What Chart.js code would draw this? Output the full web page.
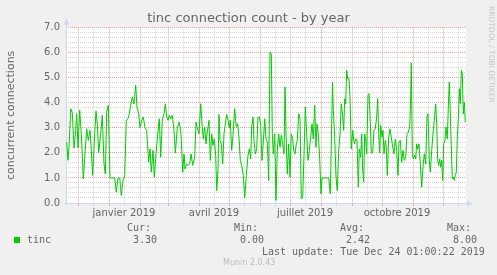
<!DOCTYPE html>
<html>
<head>
<meta charset="utf-8">
<script src="https://cdn.jsdelivr.net/npm/chart.js@4.4.1/dist/chart.umd.min.js"></script>
<style>
    body { margin: 0; background: #f0f0f0; }
    #wrap { position: relative; width: 497px; height: 275px; }
    .t { position: absolute; font: 10px 'DejaVu Sans Mono', monospace; color: #666; white-space: pre; line-height: 12px; }
    .sq { position: absolute; left: 14px; top: 237px; width: 6px; height: 6px; background: #00cc00; }
    .munin { position: absolute; left: 223px; top: 258px; font: 8px 'DejaVu Sans', sans-serif; color: #bbb; line-height: 10px; }
    .rrd { position: absolute; left: 487px; top: 6px; font: 7.5px 'DejaVu Sans', sans-serif; color: #c4c4c4; writing-mode: vertical-rl; line-height: 8px; }
</style>
</head>
<body>
<div id="wrap">
    <canvas id="muninChart" width="497" height="275"></canvas>
    <div class="t" style="left:127px;top:222px">Cur:</div>
    <div class="t" style="left:234px;top:222px">Min:</div>
    <div class="t" style="left:340px;top:222px">Avg:</div>
    <div class="t" style="left:447px;top:222px">Max:</div>
    <div class="sq"></div>
    <div class="t" style="left:27px;top:234px">tinc</div>
    <div class="t" style="left:133px;top:234px">3.30</div>
    <div class="t" style="left:240px;top:234px">0.00</div>
    <div class="t" style="left:346px;top:234px">2.42</div>
    <div class="t" style="left:453px;top:234px">8.00</div>
    <div class="t" style="left:262px;top:246px">Last update: Tue Dec 24 01:00:22 2019</div>
    <div class="munin">Munin 2.0.43</div>
    <div class="rrd">RRDTOOL / TOBI OETIKER</div>
</div>
<script>
// === DATA ===
// day 0 = 19 Nov 2018, day 400 = 24 Dec 2019
const monthStarts = [12, 43, 74, 102, 133, 163, 194, 224, 255, 286, 316, 347, 377];
const midMonths = [27, 58, 89, 117, 148, 178, 209, 239, 270, 301, 331, 362, 392];
const labelDays = [58, 148, 239, 331];
const labelTexts = ['janvier 2019', 'avril 2019', 'juillet 2019', 'octobre 2019'];

const dayOffsets = [
    0.7, 2, 3, 4.7, 6.3, 8, 9.7, 10.7, 12, 13.7, 15.3, 17.3, 19, 20.7, 22.3, 24, 25.3, 26.7, 28.7, 30,
    31.3, 32.7, 34.7, 36.3, 38, 39.3, 40.7, 42.3, 44, 48.7, 50.3, 52, 53.7, 55.3, 57, 58.7, 60.3, 62, 63.3, 64.7,
    66.3, 68, 69.7, 71, 72.7, 74, 75.7, 77.3, 79, 80.7, 82.7, 84, 85.3, 87, 88.3, 90, 91.7, 93.3, 94.7, 96.3,
    98, 99.3, 100.7, 102, 103.3, 104.7, 106.3, 108, 109.3, 111.3, 113.3, 115, 116.7, 118, 119, 120.7, 122, 123.7, 125, 126.7,
    128.7, 130, 131.3, 132, 133, 134.7, 136, 137.3, 138.7, 140, 141.3, 143, 144.3, 145.7, 147, 148.3, 149.7, 150.7, 152, 153,
    154, 155.3, 156.7, 158, 159.3, 160.7, 162, 163.3, 164.3, 165.7, 167, 168.7, 170.3, 171.7, 173, 174.3, 175.7, 177.3, 178.7, 180.3,
    182, 183.3, 184.7, 185.7, 187, 188, 189.3, 190.7, 192, 193.3, 194.7, 196, 197.3, 198.7, 200, 201.3, 202.7, 204, 205.3, 206.3,
    207.3, 208.7, 210, 211.3, 212.7, 214, 215.3, 216.7, 218, 219, 220, 221.3, 222.7, 224, 225.3, 226.7, 227.7, 229, 230.3, 231.3,
    232.7, 234, 235.3, 236.7, 238, 239.3, 240.7, 242, 243.3, 244.7, 246, 247.3, 248.7, 250, 251, 252.3, 253.7, 255, 256, 262.7,
    264.3, 265.7, 266.5, 267.3, 268.7, 270, 271.3, 272.7, 274, 275.3, 276.7, 277.7, 278.7, 279.7, 280.7, 281.7, 283, 284, 285.3, 286.7,
    287.7, 288.7, 289.7, 291, 292.3, 293.3, 294.7, 295.7, 296.7, 297.7, 298.7, 299.7, 300.7, 302, 303, 304, 305.3, 306.7, 308, 309.3,
    310.7, 311.7, 312.7, 313.7, 314.7, 316, 317, 318, 319.3, 320.3, 321.3, 322.7, 324, 325.3, 326.7, 328, 329.3, 330.7, 332, 333,
    334.3, 335.7, 337, 338.3, 339.7, 341, 342.3, 343.7, 344.7, 345.3, 346.3, 347.3, 348.7, 349.7, 350.7, 351.7, 353, 354.3, 355.7, 357,
    358.3, 359.7, 361, 362, 363.3, 364.3, 365.7, 367, 368.3, 369.7, 370.7, 371.7, 372.7, 373.7, 374.7, 375.7, 376.7, 377.7, 379, 380,
    381.3, 382.3, 383.3, 384.3, 385.3, 386.3, 387.3, 388.3, 389.3, 390.3, 391.3, 392.3, 393.3, 394.3, 395.3, 396.3, 397.3, 398.3, 399.3
];

const connections = [
    2.43, 1.7, 2.2, 3.76, 3.6, 2.2, 2.9, 3.56, 2.2, 3.7, 2.76, 0.96, 1.96, 2.96, 2.5, 2.9, 2.1, 1.1, 2.76, 3.67,
    3.16, 2.0, 2.76, 3.5, 1.56, 1.16, 3.63, 3.9, 1.0, 1.0, 0.43, 1.0, 1.0, 0.3, 0.9, 1.1, 3.3, 3.36, 3.56, 3.9,
    4.23, 3.96, 4.7, 3.83, 3.56, 3.0, 3.3, 3.43, 3.0, 2.9, 1.63, 2.16, 1.23, 2.1, 1.03, 1.96, 2.76, 3.36, 1.83, 3.3,
    3.56, 3.96, 3.43, 3.3, 3.5, 3.36, 3.5, 2.9, 2.0, 3.0, 3.23, 2.76, 1.23, 1.96, 1.36, 1.56, 1.5, 1.56, 1.96, 1.5,
    1.83, 3.23, 3.0, 2.9, 2.76, 3.96, 3.16, 2.56, 3.03, 2.36, 2.83, 3.3, 1.7, 2.76, 2.3, 2.56, 1.9, 0.5, 1.3, 3.53,
    2.5, 2.36, 1.56, 2.76, 3.16, 3.53, 3.3, 3.0, 3.3, 2.1, 2.7, 3.76, 3.03, 3.16, 2.63, 1.7, 1.5, 1.1, 0.2, 1.1,
    1.9, 2.16, 1.76, 3.03, 3.43, 2.5, 1.96, 2.16, 3.43, 3.43, 3.1, 1.7, 2.43, 3.36, 2.56, 2.43, 0.9, 6.03, 5.96, 2.76,
    1.96, 2.76, 0.1, 2.1, 2.76, 2.23, 2.7, 2.36, 1.96, 4.63, 2.76, 1.16, 2.36, 1.03, 2.76, 2.56, 2.1, 1.96, 2.36, 2.5,
    3.56, 3.36, 0.16, 0.23, 1.9, 3.83, 2.76, 1.7, 2.1, 2.63, 3.16, 2.56, 3.9, 2.23, 3.16, 2.76, 1.76, 0.36, 1.0, 1.0,
    0.36, 3.16, 4.83, 3.7, 2.63, 1.03, 0.5, 2.1, 2.76, 3.96, 3.43, 2.9, 4.16, 3.96, 5.3, 4.96, 4.96, 4.23, 2.16, 2.9,
    2.5, 2.36, 2.56, 2.5, 0.63, 2.16, 1.83, 2.76, 1.3, 0.83, 2.76, 2.5, 1.96, 4.3, 4.36, 3.56, 2.0, 2.0, 2.9, 2.96,
    3.43, 4.16, 2.76, 2.0, 3.1, 2.63, 2.9, 1.96, 2.5, 2.23, 1.1, 2.63, 2.96, 2.63, 2.23, 1.96, 2.56, 2.1, 1.1, 2.43,
    2.5, 1.63, 2.1, 1.7, 1.83, 2.76, 2.83, 3.03, 4.23, 5.59, 1.96, 1.76, 1.9, 1.76, 2.36, 2.16, 2.36, 1.56, 0.63, 1.43,
    1.96, 1.56, 3.43, 3.56, 1.7, 1.23, 2.1, 2.76, 3.3, 3.96, 3.16, 1.7, 1.5, 1.76, 1.43, 1.7, 0.9, 2.36, 2.5, 3.03,
    2.56, 3.83, 4.83, 3.56, 2.23, 0.96, 1.03, 0.9, 1.1, 1.23, 2.63, 3.3, 4.56, 3.96, 5.3, 5.16, 3.56, 4.03, 3.23
];

// === COLORS ===
const COLORS = {
    font: '#666666',
    axis: '#cfd6f8',
    major: '#e8a4a4',
    minor: '#d6d6d6',
    line: '#00cc00'
};

const isInt = v => Math.abs(v - Math.round(v)) < 1e-6;

// white canvas + munin style axis arrows
const muninFrame = {
    id: 'muninFrame',
    beforeDraw(chart) {
        const { ctx, chartArea: a } = chart;
        ctx.save();
        ctx.fillStyle = '#ffffff';
        ctx.fillRect(a.left, a.top, a.right - a.left, a.bottom - a.top);
        ctx.restore();
    },
    beforeDatasetsDraw(chart) {
        const { ctx, chartArea: a } = chart;
        const x0 = Math.round(a.left) + 0.5, y0 = Math.round(a.bottom) + 0.5;
        ctx.save();
        ctx.strokeStyle = COLORS.axis;
        ctx.fillStyle = COLORS.axis;
        ctx.lineWidth = 1;
        ctx.beginPath();
        ctx.moveTo(x0, y0 + 2); ctx.lineTo(x0, a.top - 5);
        ctx.moveTo(x0 - 2, y0); ctx.lineTo(a.right + 4, y0);
        ctx.stroke();
        ctx.beginPath();
        ctx.moveTo(x0, a.top - 9); ctx.lineTo(x0 - 3, a.top - 3); ctx.lineTo(x0 + 3, a.top - 3); ctx.closePath();
        ctx.moveTo(a.right + 7, y0); ctx.lineTo(a.right + 1, y0 - 3); ctx.lineTo(a.right + 1, y0 + 3); ctx.closePath();
        ctx.fill();
        ctx.restore();
    }
};

const ctx = document.getElementById('muninChart').getContext('2d');
new Chart(ctx, {
    type: 'line',
    data: {
        datasets: [{
            label: 'tinc',
            data: dayOffsets.map((d, i) => ({ x: d, y: connections[i] })),
            borderColor: COLORS.line,
            borderWidth: 1,
            pointRadius: 0,
            tension: 0,
            fill: false
        }]
    },
    options: {
        responsive: false, animation: false, devicePixelRatio: 1,
        layout: { padding: 0 },
        plugins: {
            legend: { display: false },
            tooltip: { enabled: false },
            title: {
                display: true, text: 'tinc connection count - by year', color: COLORS.font,
                font: { family: 'DejaVu Sans', size: 13, weight: 'normal' },
                padding: { top: 11, bottom: 1 }
            }
        },
        scales: {
            x: {
                type: 'linear', min: 0, max: 400,
                afterBuildTicks: s => { s.ticks = [...monthStarts, ...midMonths].sort((a, b) => a - b).map(v => ({ value: v })); },
                afterFit: s => { s.height = 72; },
                ticks: {
                    autoSkip: false, maxRotation: 0, padding: 1, color: COLORS.font,
                    font: { family: 'DejaVu Sans', size: 10 },
                    callback: v => { const i = labelDays.indexOf(v); return i >= 0 ? labelTexts[i] : ''; }
                },
                grid: {
                    color: c => monthStarts.includes(c.tick.value) ? COLORS.major : COLORS.minor,
                    drawTicks: true, tickLength: 3
                },
                border: { display: false, dash: [1, 1] }
            },
            y: {
                type: 'linear', min: 0, max: 7,
                afterBuildTicks: s => { const t = []; for (let i = 0; i <= 35; i++) t.push({ value: i / 5 }); s.ticks = t; },
                afterFit: s => { s.width = 66; },
                ticks: {
                    autoSkip: false, padding: 6, color: COLORS.font,
                    font: { family: 'DejaVu Sans', size: 10 },
                    callback: v => isInt(v) ? v.toFixed(1) : ''
                },
                grid: {
                    color: c => isInt(c.tick.value) ? COLORS.major : COLORS.minor,
                    drawTicks: false
                },
                border: { display: false, dash: [1, 1] },
                title: {
                    display: true, text: 'concurrent connections', color: COLORS.font,
                    font: { family: 'DejaVu Sans', size: 11 }, padding: { top: 5, bottom: 0 }
                }
            },
            // empty right margin so the title stays centred on the whole image
            yRight: {
                type: 'linear', position: 'right', min: 0, max: 7,
                afterFit: s => { s.width = 31; },
                ticks: { display: false },
                grid: { display: false },
                border: { display: false }
            }
        }
    },
    plugins: [muninFrame]
});
</script>
</body>
</html>
